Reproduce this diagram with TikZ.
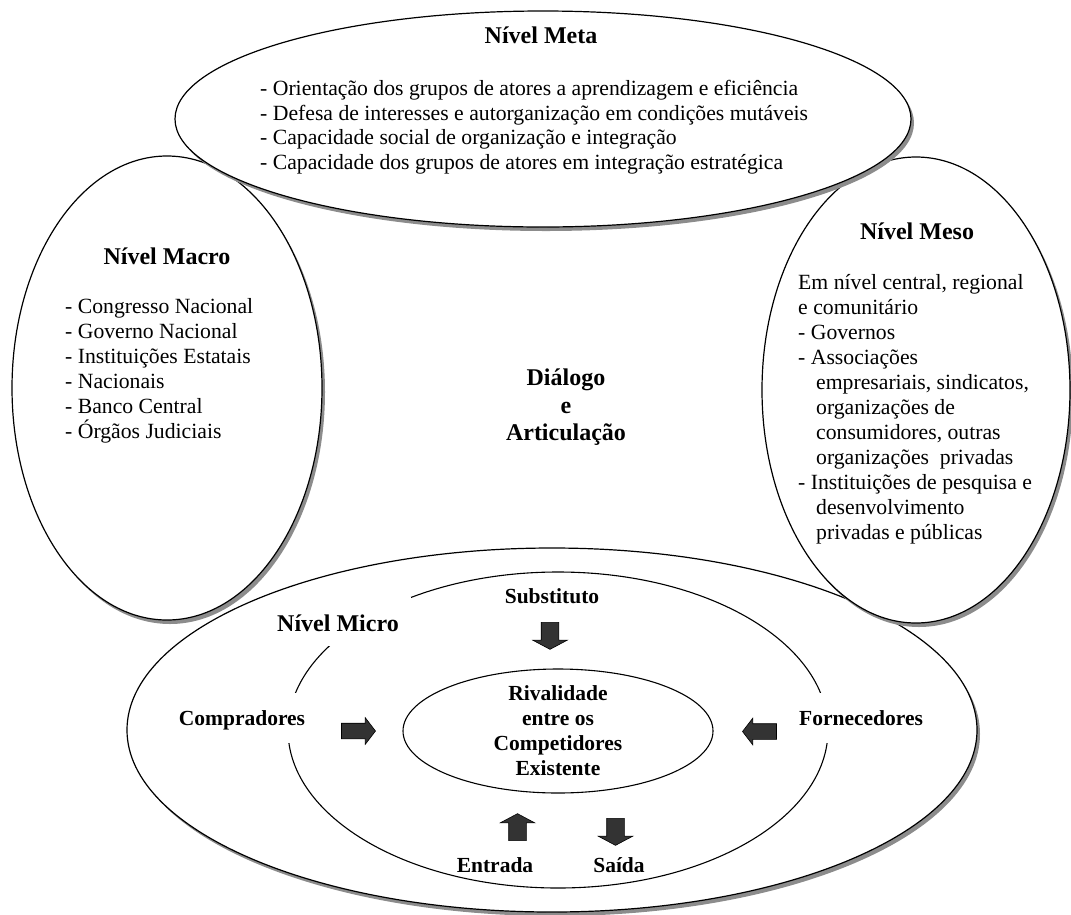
\documentclass[tikz,border=0pt]{standalone}
\usepackage{fontspec}
\setmainfont{Liberation Serif}
\usetikzlibrary{shapes.geometric,shapes.arrows,shadows}

\definecolor{shadegray}{HTML}{8C8C8C}
\definecolor{arrowfill}{HTML}{333333}

\begin{document}
\begin{tikzpicture}[x=1pt,y=-1pt,
  level/.style={ellipse, draw=black, line width=1.2pt, fill=white, inner sep=0pt,
    drop shadow={shadow xshift=3pt, shadow yshift=-4pt, fill=shadegray, opacity=1}},
  ring/.style={ellipse, draw=black, line width=1.1pt, inner sep=0pt},
  title/.style={font=\fontsize{24}{28}\selectfont\bfseries, anchor=base, inner sep=0pt},
  item/.style={font=\fontsize{21.7}{25}\selectfont, anchor=base west, inner sep=0pt},
  force/.style={font=\fontsize{21.5}{25}\selectfont\bfseries, anchor=base, inner sep=0pt},
  cut/.style={force, fill=white, text height=20pt, text depth=6pt, inner xsep=6pt, inner ysep=12pt},
  hblock/.style={single arrow, draw=black, line width=0.6pt, fill=arrowfill,
    inner xsep=0pt, inner ysep=7.5pt, text height=0pt, text depth=0pt,
    minimum height=34pt, single arrow head extend=5.5pt,
    single arrow tip angle=105},
  vblock/.style={single arrow, draw=black, line width=0.6pt, fill=arrowfill,
    inner xsep=0pt, inner ysep=8.5pt, text height=0pt, text depth=0pt,
    minimum height=27pt, single arrow head extend=8.5pt,
    single arrow tip angle=124},
]
\useasboundingbox (0,0) rectangle (1071,914);

% ---- micro level: three nested rings ----
\node[level, minimum width=850pt, minimum height=364pt] (micro) at (552,730) {};
\node[ring, minimum width=540pt, minimum height=316pt] (market) at (558,730) {};
\node[ring, minimum width=310pt, minimum height=124pt] (rival) at (558,731) {};

\node[force] (rival1) at (558,700) {Rivalidade};
\node[force] (rival2) at (558,725) {entre os};
\node[force] (rival3) at (558,750) {Competidores};
\node[force] (rival4) at (558,775) {Existente};

\node[title, fill=white, text height=22pt, text depth=3pt, inner xsep=12pt, inner ysep=12pt]
  (microT) at (338,631) {Nível Micro};
\node[force] (subst) at (552,603) {Substituto};
\node[cut] (buyers) at (242,725) {Compradores};
\node[cut] (suppliers) at (861,725) {Fornecedores};
\node[force] (entry) at (495,872) {Entrada};
\node[force] (exit) at (619,872) {Saída};

\node[vblock, rotate=270] (substArrow) at (550,633.5) {};
\node[hblock] (buyersArrow) at (355.5,731) {};
\node[hblock, rotate=180] (suppliersArrow) at (762.5,731.5) {};
\node[vblock, rotate=90] (entryArrow) at (517.5,829.5) {};
\node[vblock, rotate=270] (exitArrow) at (615.5,829.5) {};

% ---- macro level ----
\node[level, minimum width=310pt, minimum height=464pt] (macro) at (167,388) {};
\node[title] (macroT) at (167,264) {Nível Macro};
\node[item] (macro1) at (65,313) {- Congresso Nacional};
\node[item] (macro2) at (65,338) {- Governo Nacional};
\node[item] (macro3) at (65,363) {- Instituições Estatais};
\node[item] (macro4) at (65,388) {- Nacionais};
\node[item] (macro5) at (65,413) {- Banco Central};
\node[item] (macro6) at (65,438) {- Órgãos Judiciais};

% ---- meso level ----
\node[level, minimum width=308pt, minimum height=466pt] (meso) at (916,390) {};
\node[title] (mesoT) at (917,239) {Nível Meso};
\node[item] (meso1) at (798,289) {Em nível central, regional};
\node[item] (meso2) at (798,314) {e comunitário};
\node[item] (meso3) at (798,339) {- Governos};
\node[item] (meso4) at (798,364) {- Associações};
\node[item] (meso5) at (816,389) {empresariais, sindicatos,};
\node[item] (meso6) at (816,414) {organizações de};
\node[item] (meso7) at (816,439) {consumidores, outras};
\node[item] (meso8) at (816,464) {organizações~ privadas};
\node[item] (meso9) at (798,489) {- Instituições de pesquisa e};
\node[item] (meso10) at (816,514) {desenvolvimento};
\node[item] (meso11) at (816,539) {privadas e públicas};

% ---- meta level ----
\node[level, minimum width=736pt, minimum height=216pt] (meta) at (543,119) {};
\node[title] (metaT) at (541,43) {Nível Meta};
\node[item] (meta1) at (260,95) {- Orientação dos grupos de atores a aprendizagem e eficiência};
\node[item] (meta2) at (260,120) {- Defesa de interesses e autorganização em condições mutáveis};
\node[item] (meta3) at (260,144) {- Capacidade social de organização e integração};
\node[item] (meta4) at (260,169) {- Capacidade dos grupos de atores em integração estratégica};

% ---- centre ----
\node[title] (dialog1) at (566,385) {Diálogo};
\node[title] (dialog2) at (566,413) {e};
\node[title] (dialog3) at (566,440) {Articulação};
\end{tikzpicture}
\end{document}
